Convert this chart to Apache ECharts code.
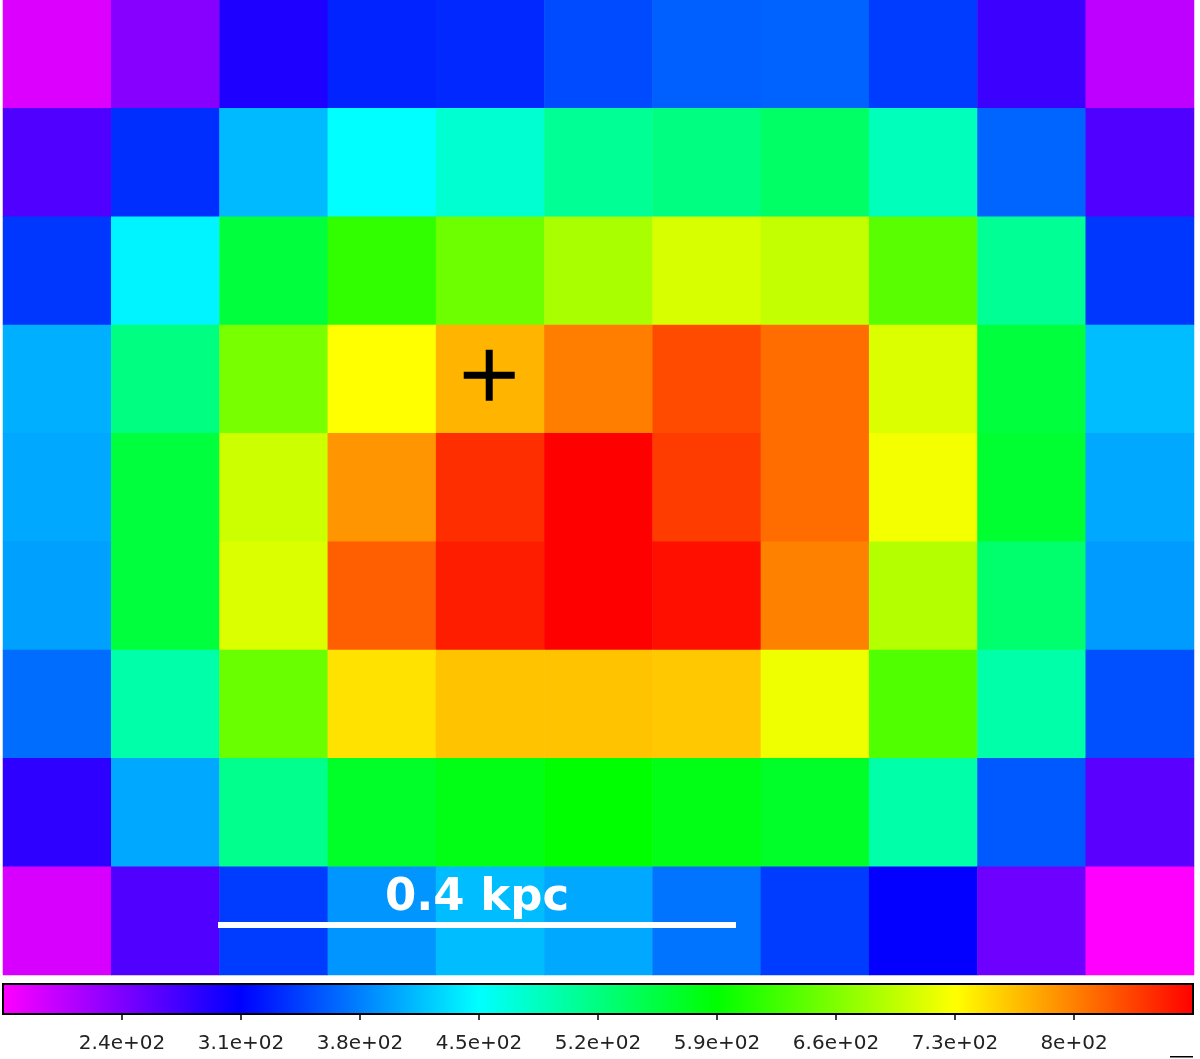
<!DOCTYPE html>
<html><head><meta charset="utf-8">
<script src="https://cdn.jsdelivr.net/npm/echarts@6/dist/echarts.min.js"></script>
<style>html,body{margin:0;padding:0;background:#fff}#c{width:1200px;height:1059px}</style>
</head><body><div id="c"></div>
<script>
// ---- data ----
const columns = ['0','1','2','3','4','5','6','7','8','9','10'];
const rows = ['0','1','2','3','4','5','6','7','8'];
const row0 = [189, 236, 294, 329, 332, 351, 362, 364, 343, 277, 206];
const row1 = [266, 335, 412, 450, 475, 508, 519, 535, 488, 365, 266];
const row2 = [340, 444, 557, 617, 650, 683, 708, 697, 639, 508, 340];
const row3 = [406, 519, 656, 730, 771, 801, 829, 810, 711, 557, 414];
const row4 = [403, 557, 702, 788, 845, 870, 837, 810, 724, 563, 403];
const row5 = [398, 557, 711, 818, 854, 870, 862, 799, 689, 530, 395];
const row6 = [370, 497, 648, 746, 763, 763, 760, 722, 634, 497, 354];
const row7 = [285, 403, 513, 568, 579, 590, 579, 568, 497, 359, 261];
const row8 = [192, 266, 343, 392, 414, 403, 373, 343, 308, 250, 170];
const gridValues = [row0, row1, row2, row3, row4, row5, row6, row7, row8];
const colorMin = 170, colorMax = 870;
const tickValues = [240, 310, 380, 450, 520, 590, 660, 730, 800];
const tickLabels = ['2.4e+02','3.1e+02','3.8e+02','4.5e+02','5.2e+02','5.9e+02','6.6e+02','7.3e+02','8e+02'];
const crossMarker = [4, 3];
const scaleBarLabel = '0.4 kpc';
const palette = ['#ff00ff', '#0000ff', '#00ffff', '#00ff00', '#ffff00', '#ff0000'];

// ---- build ----
const heatData = [];
gridValues.forEach((r, yi) => r.forEach((v, xi) => heatData.push([xi, yi, v])));
const gradStops = palette.map((c, i) => ({ offset: i / (palette.length - 1), color: c }));

const chart = echarts.init(document.getElementById('c'), null, { renderer: 'canvas' });
const CROSS = 'path://M-3.5,-25.5 L3.5,-25.5 L3.5,-3.5 L25.5,-3.5 L25.5,3.5 L3.5,3.5 L3.5,25.5 L-3.5,25.5 L-3.5,3.5 L-25.5,3.5 L-25.5,-3.5 L-3.5,-3.5 Z';

chart.setOption({
  backgroundColor: '#ffffff',
  animation: false,
  textStyle: { fontFamily: 'DejaVu Sans' },
  grid: [
    { left: 3, top: 0, width: 1191, height: 975 },
    { left: 3, top: 984, width: 1190, height: 30, show: true,
      backgroundColor: new echarts.graphic.LinearGradient(0, 0, 1, 0, gradStops),
      borderColor: '#000', borderWidth: 2 }
  ],
  xAxis: [
    { gridIndex: 0, type: 'category', data: columns, show: false },
    { gridIndex: 1, type: 'value', min: colorMin, max: colorMax,
      axisLine: { show: false }, splitLine: { show: false },
      axisTick: { show: true, length: 6, lineStyle: { color: '#000', width: 1.5 }, customValues: tickValues },
      axisLabel: { show: true, customValues: tickValues, margin: 20, fontSize: 20, color: '#222',
        fontFamily: 'DejaVu Sans',
        formatter: v => { const i = tickValues.indexOf(v); return i >= 0 ? tickLabels[i] : ''; } } }
  ],
  yAxis: [
    { gridIndex: 0, type: 'category', data: rows, inverse: true, show: false },
    { gridIndex: 1, type: 'value', show: false, min: 0, max: 1 }
  ],
  visualMap: {
    show: false, type: 'continuous', min: colorMin, max: colorMax, seriesIndex: 0,
    inRange: { color: palette }
  },
  series: [
    { type: 'heatmap', xAxisIndex: 0, yAxisIndex: 0, data: heatData,
      itemStyle: { borderWidth: 0 }, emphasis: { disabled: true }, silent: true },
    { type: 'scatter', xAxisIndex: 0, yAxisIndex: 0, data: [crossMarker],
      symbol: CROSS, symbolSize: 51, symbolOffset: [-1, -4],
      itemStyle: { color: '#000', opacity: 1 }, silent: true, z: 5 }
  ],
  graphic: [
    { type: 'rect', left: 218, top: 922, shape: { width: 518, height: 6 }, style: { fill: '#fff' }, z: 10 },
    { type: 'text', x: 477, y: 921, style: { text: scaleBarLabel, fill: '#fff',
        font: 'bold 45px "DejaVu Sans"', textAlign: 'center', textVerticalAlign: 'bottom' }, z: 10 },
    { type: 'rect', left: 1170, top: 1056, shape: { width: 23, height: 1.5 }, style: { fill: '#000' } }
  ]
});
</script></body></html>
